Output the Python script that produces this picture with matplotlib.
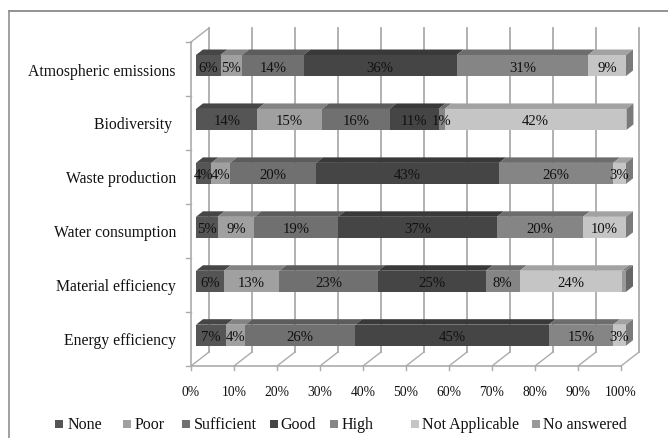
#!/usr/bin/env python3
"""Stacked 3D-look horizontal bars: environmental aspects by rating."""
import numpy as np
import matplotlib
matplotlib.use("Agg")
import matplotlib.pyplot as plt
from matplotlib.lines import Line2D
from matplotlib.patches import Polygon, Rectangle

W, H = 668, 439
PX = 430 / 100.0           # pixels per percent point
DX, DY = 7.0, 5.5          # depth of the bars, px
WALL_DX, WALL_DY = 18.0, 14.0   # depth of the chart box, px
BAR_H = 0.39

categories = ["Energy efficiency", "Material efficiency", "Water consumption",
              "Waste production", "Biodiversity ", "Atmospheric emissions"]
series = ["None", "Poor", "Sufficient", "Good", "High", "Not Applicable", "No answered"]
colors = ["#555555", "#a0a0a0", "#707070", "#454545", "#858585", "#c5c5c5", "#999999"]

none = [7.0, 6.5, 5.0, 3.6, 14.3, 5.7]
poor = [4.5, 12.9, 8.6, 4.3, 15.0, 5.0]
sufficient = [25.5, 23.0, 19.4, 20.0, 15.7, 14.3]
good = [45.0, 25.0, 37.0, 42.6, 11.4, 35.6]
high = [15.0, 7.9, 20.0, 26.5, 1.4, 30.6]
not_applicable = [3.0, 23.8, 10.0, 3.0, 42.3, 8.8]
no_answered = [0.0, 0.9, 0.0, 0.0, 0.0, 0.0]

xticks = [0, 10, 20, 30, 40, 50, 60, 70, 80, 90, 100]

# legend swatch x and text x, px
legend_sq = [55, 123, 182, 270, 330, 411, 532]
legend_tx = [67.5, 134.5, 194, 280.5, 342, 421.5, 543]

plt.rcParams["font.family"] = ["Liberation Serif", "DejaVu Serif"]
TXT = "#111111"
GRID = "#ababab"


def shade(color, f):
    r, g, b = matplotlib.colors.to_rgb(color)
    return (r * f, g * f, b * f)


fig = plt.figure(figsize=(W / 100, H / 100), dpi=100)
# axes box is the front plane of the bars: x 196..626 px, y 43..367 px
ax = fig.add_axes([196 / W, 1 - 367 / H, 430 / W, 324 / H])
ax.set_xlim(0, 100)
ax.set_ylim(-0.571, 5.436)
ax.axis("off")

py = 324 / (5.436 + 0.571)   # pixels per category row
ddx, ddy = DX / PX, DY / py
wx, wy = WALL_DX / PX, WALL_DY / py
x0 = -5 / PX                 # front of the chart box sits 5 px left of the bars
y_floor, y_top = ax.get_ylim()

# back wall, floor and left wall lines
for t in xticks:
    xf = x0 + t
    ax.add_line(Line2D([xf + wx, xf + wx], [y_floor + wy, y_top + wy], color=GRID, lw=1.3,
                       clip_on=False, zorder=1))
    ax.add_line(Line2D([xf, xf + wx], [y_floor, y_floor + wy], color=GRID, lw=1.0,
                       clip_on=False, zorder=1))
    ax.add_line(Line2D([xf, xf], [y_floor, y_floor - 4 / py], color=GRID, lw=1.0,
                       clip_on=False, zorder=1))
    ax.text(xf, y_floor - 25 / py, f"{t}%", ha="center", va="center", fontsize=9.8, color=TXT)
ax.add_line(Line2D([x0, x0 + 100], [y_floor, y_floor], color=GRID, lw=1.2, clip_on=False, zorder=1))
ax.add_line(Line2D([x0, x0], [y_floor, y_top], color=GRID, lw=1.2, clip_on=False, zorder=1))
ax.add_line(Line2D([x0, x0 + wx], [y_top, y_top + wy], color=GRID, lw=1.0, clip_on=False, zorder=1))
for k in range(len(categories) + 1):
    yy = y_floor + k
    ax.add_line(Line2D([x0 - 5 / PX, x0], [yy, yy], color=GRID, lw=1.0, clip_on=False, zorder=1))

# stacked bars, each with a top face and a closing side face
stack = np.array([none, poor, sufficient, good, high, not_applicable, no_answered])
left = np.zeros(len(categories))
y = np.arange(len(categories))
for name, vals, col in zip(series, stack, colors):
    ax.barh(y, vals, BAR_H, left=left, color=col, edgecolor="none", zorder=3)
    for i, v in enumerate(vals):
        if v <= 0:
            continue
        top = y[i] + BAR_H / 2
        ax.add_patch(Polygon([(left[i], top), (left[i] + v, top),
                              (left[i] + v + ddx, top + ddy), (left[i] + ddx, top + ddy)],
                             closed=True, fc=shade(col, 0.82), ec="none", zorder=3, clip_on=False))
        if name != "No answered":
            ax.text(left[i] + v / 2, y[i] - 1.5 / py, f"{round(v)}%", ha="center", va="center",
                    fontsize=10.6, color=TXT, zorder=5)
    left = left + vals

for i in y:
    last = stack[:, i].nonzero()[0][-1]
    end = left[i]
    bot, top = y[i] - BAR_H / 2, y[i] + BAR_H / 2
    ax.add_patch(Polygon([(end, bot), (end + ddx, bot + ddy), (end + ddx, top + ddy), (end, top)],
                         closed=True, fc="#7a7a7a" if last < 6 else "#666666", ec="none",
                         zorder=3, clip_on=False))
    ax.text(-20 / PX, y[i] - 5 / py, categories[i], ha="right", va="center", fontsize=11.3, color=TXT)

# outer frame: only the top and left edges are visible in the picture
fig.add_artist(Line2D([8.5 / W, 1], [1 - 11.5 / H, 1 - 11.5 / H], color="#808080", lw=1.2))
fig.add_artist(Line2D([8.5 / W, 8.5 / W], [0, 1 - 11.5 / H], color="#909090", lw=1.2))

# legend
for name, col, sx, tx in zip(series, colors, legend_sq, legend_tx):
    fig.add_artist(Rectangle((sx / W, 1 - 429 / H), 8 / W, 8 / H, fc=col, ec="none"))
    fig.text(tx / W, 1 - 425 / H, name, ha="left", va="center", fontsize=11.5, color=TXT)

fig.savefig("out.png", dpi=100)
